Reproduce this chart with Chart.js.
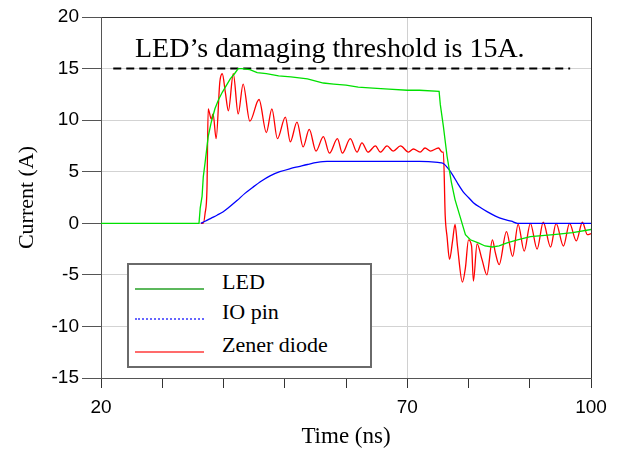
<!DOCTYPE html>
<html>
<head>
<meta charset="utf-8">
<script src="https://cdn.jsdelivr.net/npm/chart.js@4"></script>
<style>
  body { margin: 0; background: #fff; }
  #wrap { position: relative; width: 618px; height: 451px; }
  #note { position: absolute; left: 135px; top: 34px; font: 28px/28px "Liberation Serif", serif; color: #000; white-space: nowrap; }
  #legend { position: absolute; left: 127px; top: 263px; width: 241px; height: 101px; border: 2px solid #6a6a6a; background: #fff; }
  .sample { position: absolute; left: 6px; width: 69px; height: 0; }
  .lbl { position: absolute; left: 93px; font: 22px/22px "Liberation Serif", serif; color: #000; white-space: nowrap; }
</style>
</head>
<body>
<div id="wrap">
  <canvas id="myChart" width="618" height="451"></canvas>
  <div id="note">LED’s damaging threshold is 15A.</div>
  <div id="legend"></div>
</div>
<script>
// LED current (A) vs time (ns)
const ledTime = [20, 36.0, 36.2, 36.5, 36.7, 37.0, 37.5, 38.0, 38.6, 39.2, 39.8, 40.5, 41.1, 41.8, 42.4, 43.0, 44.3, 45.5, 47, 49, 51, 53.7, 56.3, 58, 60, 62, 64.4, 67, 70, 72, 75.2,
  75.4, 75.9, 76.5, 77.2, 77.8, 78.6, 79.5, 80.3, 81.6, 82.7, 83.9, 85, 86.3, 88, 90.1, 93.9, 97, 100];
const ledCurrent = [0, 0, 1.5, 2.6, 4.5, 5.9, 8.4, 9.8, 11.1, 12.0, 12.7, 13.4, 14.0, 14.5, 15.0, 15.0, 14.9, 14.6, 14.5, 14.3, 14.2, 14.0, 13.6, 13.5, 13.4, 13.2, 13.1, 13.0, 12.9, 12.9, 12.8,
  11.5, 9.4, 6.5, 4.0, 2.3, 0.7, -1.1, -1.6, -1.9, -2.2, -2.3, -2.2, -1.9, -1.6, -1.3, -1.1, -0.9, -0.6];

// IO pin current
const ioTime = [36.3, 37, 38, 39, 39.9, 41, 42.2, 43.5, 44.8, 46.2, 47.6, 49.2, 50.9, 52.3, 53.7, 55.3, 56.9, 60, 65, 70, 72, 75, 75.9, 76.7, 77.5, 78.3, 79.2, 80.0, 80.8, 82, 83.1, 84.4, 85.7, 87, 88, 100];
const ioCurrent = [0, 0.2, 0.5, 0.8, 1.1, 1.6, 2.2, 2.9, 3.5, 4.1, 4.6, 5.0, 5.3, 5.5, 5.7, 5.9, 6.0, 6.0, 6.0, 6.0, 6.0, 5.9, 5.8, 5.3, 4.6, 3.8, 3.0, 2.5, 2.0, 1.5, 1.1, 0.7, 0.4, 0.2, 0, 0];

// Zener diode current
const zenerTime = [36.3, 36.7, 37.0, 37.3, 37.5, 38.0, 38.3, 38.8, 39.4, 39.8, 40.3, 40.8, 41.6, 42.4, 43.2, 44.3, 45.8, 47.0, 47.9, 48.8, 50.1, 50.9, 52.0, 53.0, 54.0, 55.1, 56.3, 57.3, 58.6, 59.4,
  60.7, 61.8, 62.6, 63.6, 64.8, 65.6, 66.7, 67.7, 68.9, 70.2, 71.0, 72.1, 72.9, 73.8, 75.1, 75.7, 75.9, 76.2, 76.5, 76.9, 77.4, 77.8, 78.2, 79.0, 79.5, 80.0, 80.5, 80.8, 81.4, 82.2,
  83.0, 83.9, 84.4, 85.0, 86.2, 87.2, 88.1, 89.1, 90.1, 91.2, 92.2, 93.4, 94.3, 95.5, 96.5, 97.6, 98.6, 99.4, 100];
const zenerCurrent = [0, 0, 1.0, 3.3, 11.1, 10.1, 10.6, 8.2, 13.7, 14.5, 12.7, 10.9, 14.5, 10.6, 13.5, 9.9, 12.0, 8.8, 11.1, 8.2, 10.3, 7.9, 9.8, 7.4, 9.1, 7.0, 8.4, 6.8, 8.2, 6.8,
  8.2, 6.9, 7.8, 6.9, 7.5, 6.9, 7.5, 7.0, 7.5, 6.9, 7.2, 6.9, 7.3, 7.0, 7.3, 6.9, 6.9, 0.7, -1.3, -3.5, -1.7, -0.1, -2.2, -5.7, -4.3, -1.6, -2.2, -5.6, -2.0, -3.5,
  -5.0, -1.6, -2.9, -4.0, -0.8, -3.2, -0.1, -2.7, 0, -2.5, 0.1, -2.3, 0, -2.2, 0, -1.7, 0.1, -1.1, -1.0];

// damage threshold line
const thresholdTime = [22, 96.6];
const thresholdCurrent = [15, 15];

const xTicksShown = [20, 70, 100];
const yTicks = [-15, -10, -5, 0, 5, 10, 15, 20];

const toPoints = (xs, ys) => xs.map((x, i) => ({ x: x, y: ys[i] }));

Chart.defaults.font.family = '"Liberation Sans", Arial, sans-serif';
Chart.defaults.color = '#000';

const ctx = document.getElementById('myChart').getContext('2d');
const chart = new Chart(ctx, {
  type: 'line',
  data: {
    datasets: [
      { label: 'LED', data: toPoints(ledTime, ledCurrent), borderColor: '#00e000', borderWidth: 1.3,
        legendColor: '#5cb85c', legendStyle: 'solid' },
      { label: 'IO pin', data: toPoints(ioTime, ioCurrent), borderColor: '#0000ff', borderWidth: 1.3,
        cubicInterpolationMode: 'monotone', legendColor: '#6666ff', legendStyle: 'dotted' },
      { label: 'Zener diode', data: toPoints(zenerTime, zenerCurrent), borderColor: '#ff0000', borderWidth: 1.3,
        cubicInterpolationMode: 'monotone', legendColor: '#ff6b6b', legendStyle: 'solid' },
      { label: 'threshold', data: toPoints(thresholdTime, thresholdCurrent), borderColor: '#000', borderWidth: 2,
        borderDash: [8, 5], noLegend: true }
    ]
  },
  options: {
    responsive: false,
    animation: false,
    elements: { point: { radius: 0 }, line: { tension: 0 } },
    layout: { padding: { left: 0, right: 27, top: 17, bottom: 0 } },
    plugins: { legend: { display: false }, tooltip: { enabled: false } },
    scales: {
      x: {
        type: 'linear',
        min: 20,
        max: 100,
        afterFit: (scale) => { scale.height = 73; },
        border: { color: '#555', width: 1 },
        grid: {
          tickLength: 10,
          tickColor: '#333',
          color: (c) => c.tick && c.tick.value === 70 ? '#d0d0d0' : (c.tick && c.tick.value === 100 ? '#333' : 'rgba(0,0,0,0)')
        },
        ticks: {
          stepSize: 10,
          autoSkip: false,
          maxRotation: 0,
          padding: 8,
          font: { size: 19 },
          callback: (v) => xTicksShown.includes(v) ? String(v) : ''
        },
        title: { display: true, text: 'Time (ns)', padding: { top: 0, bottom: 0 },
          font: { family: '"Liberation Serif", serif', size: 23 } }
      },
      y: {
        min: -15,
        max: 20,
        afterFit: (scale) => { scale.width = 101; },
        border: { color: '#555', width: 1 },
        grid: {
          tickLength: 19,
          tickColor: '#555',
          color: (c) => c.tick && c.tick.value === 20 ? '#333' : '#d3d3d3'
        },
        afterBuildTicks: (scale) => { scale.ticks = yTicks.map(v => ({ value: v })); },
        ticks: { padding: 3, font: { size: 19 }, callback: (v) => String(v) },
        title: { display: true, text: 'Current (A)', padding: { top: 14, bottom: 0 },
          font: { family: '"Liberation Serif", serif', size: 22 } }
      }
    }
  }
});

// legend box built from the dataset labels
const legend = document.getElementById('legend');
const rowTop = [24, 54, 87];
chart.data.datasets.filter(d => !d.noLegend).forEach((d, i) => {
  const s = document.createElement('div');
  s.className = 'sample';
  s.style.top = (rowTop[i] - 1) + 'px';
  s.style.borderTop = '2px ' + d.legendStyle + ' ' + d.legendColor;
  legend.appendChild(s);
  const t = document.createElement('div');
  t.className = 'lbl';
  t.style.top = (rowTop[i] - 18) + 'px';
  t.textContent = d.label;
  legend.appendChild(t);
});
</script>
</body>
</html>
